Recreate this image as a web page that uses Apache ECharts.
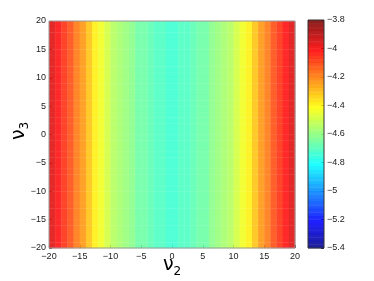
<!DOCTYPE html>
<html><head><meta charset="utf-8">
<script src="https://cdn.jsdelivr.net/npm/echarts@6/dist/echarts.min.js"></script>
<style>html,body{margin:0;padding:0;background:#fff}#c{width:374px;height:281px}</style>
</head><body><div id="c"></div>
<script>
// column (nu2) cell edges -20..19 -> value per column; uniform along nu3
const nu2Edges = [-20,-19,-18,-17,-16,-15,-14,-13,-12,-11,-10,-9,-8,-7,-6,-5,-4,-3,-2,-1,0,1,2,3,4,5,6,7,8,9,10,11,12,13,14,15,16,17,18,19];
const nu3Edges = [-20,-19,-18,-17,-16,-15,-14,-13,-12,-11,-10,-9,-8,-7,-6,-5,-4,-3,-2,-1,0,1,2,3,4,5,6,7,8,9,10,11,12,13,14,15,16,17,18,19];
const columnValues = [-3.97,-4.01,-4.06,-4.12,-4.18,-4.25,-4.31,-4.38,-4.43,-4.48,-4.53,-4.57,-4.60,-4.62,-4.65,-4.67,-4.69,-4.71,-4.72,-4.73,
                      -4.73,-4.72,-4.71,-4.69,-4.67,-4.65,-4.62,-4.60,-4.57,-4.53,-4.48,-4.43,-4.38,-4.31,-4.25,-4.18,-4.12,-4.06,-4.01,-3.97];
const xTicks = [-20,-15,-10,-5,0,5,10,15,20];
const yTicks = [-20,-15,-10,-5,0,5,10,15,20];
const cbTicks = [-5.4,-5.2,-5,-4.8,-4.6,-4.4,-4.2,-4,-3.8];
const cMin = -5.4, cMax = -3.8;

// MATLAB jet(64)
const M = 64;
const jet = (function(){
  const n = Math.ceil(M/4);
  const u = [];
  for (let i=1;i<=n;i++) u.push(i/n);
  for (let i=1;i<n;i++) u.push(1);
  for (let i=n;i>=1;i--) u.push(i/n);
  const g0 = Math.ceil(n/2) - (M%4===1?1:0);
  const J = []; for (let i=0;i<M;i++) J.push([0,0,0]);
  for (let k=1;k<=u.length;k++){
    const g=g0+k, r=g+n, b=g-n;
    if (g>=1&&g<=M) J[g-1][1]=u[k-1];
    if (r>=1&&r<=M) J[r-1][0]=u[k-1];
    if (b>=1&&b<=M) J[b-1][2]=u[k-1];
  }
  return J.map(c=>'rgb('+c.map(x=>Math.round(x*255)).join(',')+')');
})();
function colorOf(v){
  let idx = Math.floor((v-cMin)/(cMax-cMin)*M);
  idx = Math.max(0, Math.min(M-1, idx));
  return jet[idx];
}
const cells = [];
nu2Edges.forEach((x,i)=>{ nu3Edges.forEach(y=>{ cells.push([x, y, columnValues[i]]); }); });
const cbBands = [];
for (let k=0;k<M;k++) cbBands.push([cMin + k*(cMax-cMin)/M, cMin + (k+1)*(cMax-cMin)/M, k]);

const font = 'Liberation Sans, Arial, sans-serif';
const fmt = v => String(Math.round(v*10)/10).replace('-','\u2212');
const chart = echarts.init(document.getElementById('c'), null, {renderer:'canvas'});
chart.setOption({
  animation:false,
  grid:[
    {left:49, right:79, top:21, bottom:33, show:true, borderColor:'#999', borderWidth:1, backgroundColor:'transparent', z:10},
    {left:308, right:50, top:20, bottom:33, show:true, borderColor:'#333', borderWidth:1, z:10}
  ],
  xAxis:[
    {type:'value', gridIndex:0, min:-20, max:20, interval:5, position:'bottom',
     axisLine:{show:false, onZero:false}, splitLine:{show:false},
     axisTick:{show:true, inside:true, length:3, lineStyle:{color:'#555'}},
     axisLabel:{fontSize:9, color:'#222', fontFamily:font, margin:4, formatter:fmt}},
    {type:'value', gridIndex:1, min:0, max:1, show:false, axisLine:{onZero:false}}
  ],
  yAxis:[
    {type:'value', gridIndex:0, min:-20, max:20, interval:5, position:'left',
     axisLine:{show:false, onZero:false}, splitLine:{show:false},
     axisTick:{show:true, inside:true, length:3, lineStyle:{color:'#555'}},
     axisLabel:{fontSize:9, color:'#222', fontFamily:font, margin:3, formatter:fmt}},
    {type:'value', gridIndex:1, min:cMin, max:cMax, interval:0.2, position:'right',
     axisLine:{show:false, onZero:false}, splitLine:{show:false},
     axisTick:{show:true, inside:true, length:3, lineStyle:{color:'#333'}},
     axisLabel:{fontSize:9, color:'#222', fontFamily:font, margin:3, formatter:fmt}}
  ],
  series:[
    {type:'custom', xAxisIndex:0, yAxisIndex:0, data:cells, z:2,
     renderItem:(params, api)=>{
       const x=api.value(0), y=api.value(1), v=api.value(2);
       const p0=api.coord([x, y+1]), p1=api.coord([x+1, y]);
       return {type:'rect', shape:{x:p0[0], y:p0[1], width:p1[0]-p0[0]+0.3, height:p1[1]-p0[1]+0.3},
               style:{fill:colorOf(v), opacity:0.84, stroke:'rgba(255,255,255,0.10)', lineWidth:0.5}};
     }},
    {type:'custom', xAxisIndex:1, yAxisIndex:1, data:cbBands, z:2,
     renderItem:(params, api)=>{
       const a=api.value(0), b=api.value(1), k=api.value(2);
       const p0=api.coord([0, b]), p1=api.coord([1, a]);
       return {type:'rect', shape:{x:p0[0], y:p0[1], width:p1[0]-p0[0], height:p1[1]-p0[1]+0.3},
               style:{fill:jet[k], opacity:0.88}};
     }}
  ],
  graphic:[
    {type:'text', left:163, top:256, style:{text:'{a|\u03bd}{b|2}', rich:{a:{fontSize:19, fontFamily:'DejaVu Sans', fill:'#000'}, b:{fontSize:12, fontFamily:'DejaVu Sans', fill:'#000', padding:[12,0,0,0]}}}},
    {type:'text', x:7, y:140, rotation:Math.PI/2, style:{text:'{a|\u03bd}{b|3}', rich:{a:{fontSize:19, fontFamily:'DejaVu Sans', fill:'#000'}, b:{fontSize:12, fontFamily:'DejaVu Sans', fill:'#000', padding:[12,0,0,0]}}}}
  ]
});
</script></body></html>
